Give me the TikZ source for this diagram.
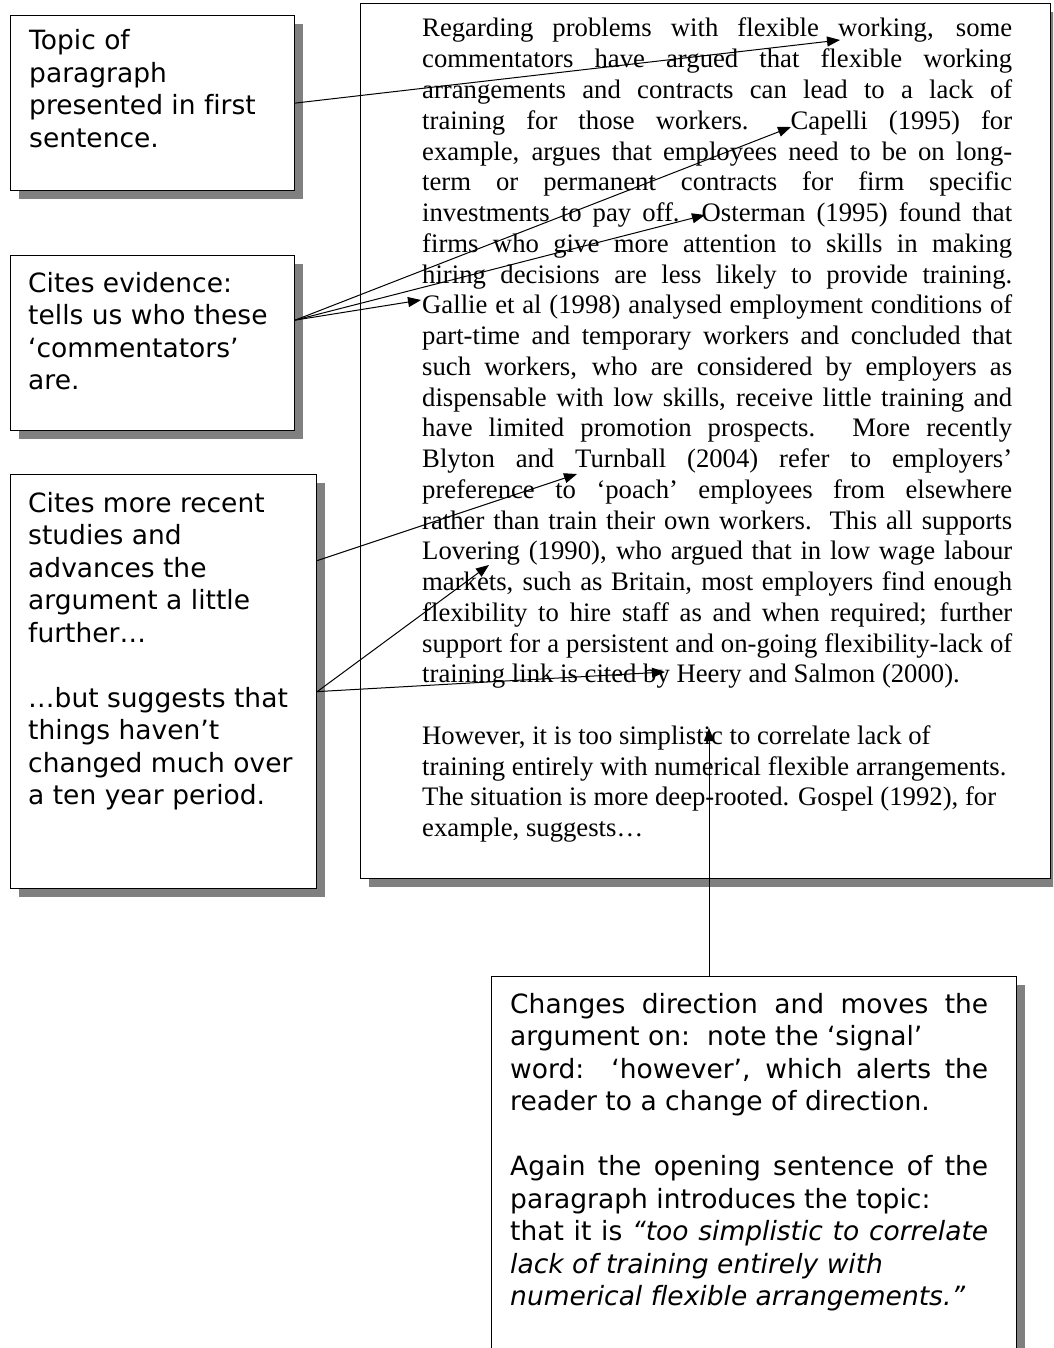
\documentclass[tikz,border=0pt]{standalone}
\usepackage{fontspec}
\setmainfont[Ligatures=NoCommon]{Liberation Serif}
\newfontfamily\notefont[Ligatures=NoCommon]{DejaVu Sans}
\usepackage{tikz}
\usetikzlibrary{positioning}
\usetikzlibrary{arrows.meta,shadows}
\usepackage{xcolor}

\tikzset{
  box/.style={draw, fill=white, line width=1.2pt, anchor=north west, inner sep=0pt,
    drop shadow={shadow xshift=8pt, shadow yshift=-8pt, opacity=1, fill=black!50}},
  note/.style={anchor=base west, inner sep=0pt, font=\notefont\fontsize{26.5}{32.5}\selectfont},
  para/.style={anchor=base west, inner sep=0pt, font=\fontsize{26.7}{30.76}\selectfont},
  link/.style={-{Triangle[length=13pt,width=10pt]}, line width=1pt}
}

\begin{document}
\begin{tikzpicture}[x=1pt, y=-1pt]
                \useasboundingbox (0,0) rectangle (1053,1348);
                \clip (0,0) rectangle (1053,1348);
                % boxes
                \node[box, minimum width=284pt, minimum height=175pt](topic) at (10,15){};
                \node[box, minimum width=284pt, minimum height=175pt](cites) at (10,255){};
                \node[box, minimum width=306pt, minimum height=414pt](recent) at (10,474){};
                \node[box, minimum width=690pt, minimum height=875pt](essay) at (360,3){};
                \node[box, minimum width=525pt, minimum height=420pt](turn) at (491,976){};
                % notes
                \node[note](topictext) at (29,50){\parbox[t]{260pt}{\raggedright
                  Topic of\\paragraph\\presented in first\\sentence.}};
                \node[note](citestext) at (28,292){\parbox[t]{260pt}{\raggedright
                  Cites evidence:\\tells us who these\\‘commentators’\\are.}};
                \node[note](recenttext) at (28,512){\parbox[t]{280pt}{\raggedright
                  Cites more recent\\studies and\\advances the\\argument a little\\further…\\[32.5pt]
                  …but suggests that\\things haven’t\\changed much over\\a ten year period.}};
                \node[note](turntext) at (510,1013){\parbox[t]{478pt}{\tolerance=10000 \hbadness=10000
                  Changes direction and moves the\linebreak
                  argument on:\ \ note the ‘signal’\\
                  word:\ \ ‘however’, which alerts the\linebreak
                  reader to a change of direction.\par\vspace{32.5pt}
                  Again the opening sentence of the\linebreak
                  paragraph introduces the topic:\\
                  that it is \textit{“too simplistic to correlate}\linebreak
                  \textit{lack of training entirely with}\\
                  \textit{numerical flexible arrangements.”}}};
                % the paragraph
                \node[para](essaytext) at (422,37){\parbox[t]{590pt}{\tolerance=10000 \hbadness=10000
                  Regarding problems with flexible working, some\linebreak
                  commentators have argued that flexible working\linebreak
                  arrangements and contracts can lead to a lack of\linebreak
                  training for those workers.\ \ Capelli (1995) for\linebreak
                  example, argues that employees need to be on long-\linebreak
                  term or permanent contracts for firm specific\linebreak
                  investments to pay off. Osterman (1995) found that\linebreak
                  firms who give more attention to skills in making\linebreak
                  hiring decisions are less likely to provide training.\linebreak
                  Gallie et al (1998) analysed employment conditions of\linebreak
                  part-time and temporary workers and concluded that\linebreak
                  such workers, who are considered by employers as\linebreak
                  dispensable with low skills, receive little training and\linebreak
                  have limited promotion prospects. More recently\linebreak
                  Blyton and Turnball (2004) refer to employers’\linebreak
                  preference to ‘poach’ employees from elsewhere\linebreak
                  rather than train their own workers.\ \ This all supports\linebreak
                  Lovering (1990), who argued that in low wage labour\linebreak
                  markets, such as Britain, most employers find enough\linebreak
                  flexibility to hire staff as and when required; further\linebreak
                  support for a persistent and on-going flexibility-lack of\linebreak
                  training link is cited by Heery and Salmon (2000).\par\vspace{30.76pt}
                  However, it is too simplistic to correlate lack of\\
                  training entirely with numerical flexible arrangements.\\
                  The situation is more deep-rooted. Gospel (1992), for\\
                  example, suggests…}};
                % pointers into the text
                \coordinate (working) at (840,40);
                \coordinate (capelli) at (791,127);
                \coordinate (osterman) at (705,215);
                \coordinate (gallie) at (421,300);
                \coordinate (turnball) at (577,474);
                \coordinate (lovering) at (489,565);
                \coordinate (heery) at (665,672);
                \coordinate (simplistic) at (709,728);
                \path (topic.east) edge[link] (working);
                \path ([yshift=23pt]cites.east) edge[link] (capelli);
                \path ([yshift=23pt]cites.east) edge[link] (osterman);
                \path ([yshift=23pt]cites.east) edge[link] (gallie);
                \path ([yshift=121pt]recent.east) edge[link] (turnball);
                \path ([yshift=-10pt]recent.east) edge[link] (lovering);
                \path ([yshift=-10pt]recent.east) edge[link] (heery);
                \path (simplistic |- turn.north) edge[link] (simplistic);
\end{tikzpicture}
\end{document}
